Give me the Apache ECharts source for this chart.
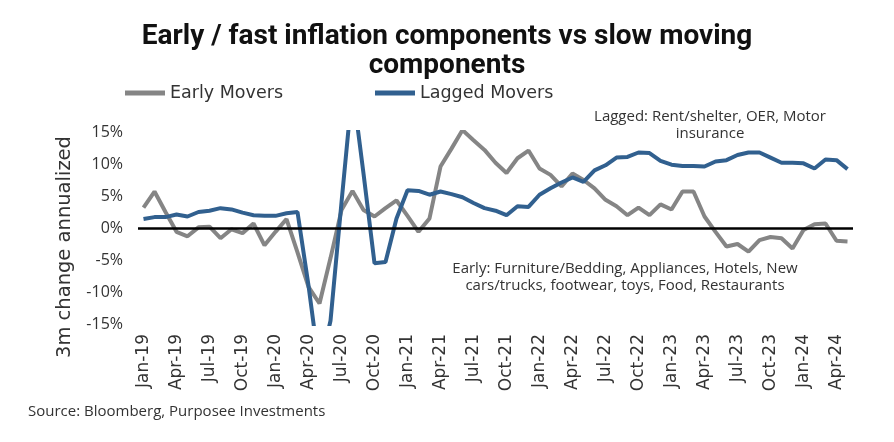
<!DOCTYPE html>
<html>
<head>
<meta charset="utf-8">
<script src="https://cdn.jsdelivr.net/npm/echarts@6/dist/echarts.min.js"></script>
<style>html,body{margin:0;padding:0;background:#fff;}#c{width:894px;height:442px;}</style>
</head>
<body>
<div id="c"></div>
<script>
const months = ["Jan-19","Feb-19","Mar-19","Apr-19","May-19","Jun-19","Jul-19","Aug-19","Sep-19","Oct-19","Nov-19","Dec-19",
"Jan-20","Feb-20","Mar-20","Apr-20","May-20","Jun-20","Jul-20","Aug-20","Sep-20","Oct-20","Nov-20","Dec-20",
"Jan-21","Feb-21","Mar-21","Apr-21","May-21","Jun-21","Jul-21","Aug-21","Sep-21","Oct-21","Nov-21","Dec-21",
"Jan-22","Feb-22","Mar-22","Apr-22","May-22","Jun-22","Jul-22","Aug-22","Sep-22","Oct-22","Nov-22","Dec-22",
"Jan-23","Feb-23","Mar-23","Apr-23","May-23","Jun-23","Jul-23","Aug-23","Sep-23","Oct-23","Nov-23","Dec-23",
"Jan-24","Feb-24","Mar-24","Apr-24","May-24"];
const earlyMovers = [3.2,5.7,2.5,-0.6,-1.3,0.1,0.2,-1.6,-0.2,-0.8,0.7,-2.7,
-0.6,1.4,-3.8,-9.2,-11.8,-4.7,2.8,5.8,2.8,1.8,3.1,4.3,
1.9,-0.6,1.5,9.6,12.4,15.3,13.7,12.2,10.2,8.6,10.9,12.1,
9.3,8.3,6.5,8.5,7.5,6.2,4.4,3.4,2.0,3.2,2.0,3.7,
2.9,5.7,5.7,1.8,-0.6,-2.9,-2.5,-3.7,-1.9,-1.4,-1.6,-3.2,
-0.3,0.6,0.7,-2.0,-2.1];
const laggedMovers = [1.4,1.7,1.7,2.1,1.8,2.5,2.7,3.1,2.9,2.4,2.0,1.9,
1.9,2.3,2.5,-9.0,-22,-14.5,4,22,8.5,-5.5,-5.3,1.5,
5.9,5.8,5.2,5.7,5.3,4.8,3.9,3.1,2.7,2.0,3.4,3.3,
5.2,6.2,7.1,7.9,7.2,9.0,9.8,11.0,11.1,11.8,11.7,10.5,
9.9,9.7,9.7,9.6,10.4,10.6,11.4,11.8,11.8,11.0,10.2,10.2,
10.1,9.3,10.7,10.6,9.2];
const seriesNames = ["Early Movers","Lagged Movers"];
const titleText = "Early / fast inflation components vs slow moving\ncomponents";
const yAxisTitle = "3m change annualized";
const sourceText = "Source: Bloomberg, Purposee Investments";
const laggedNote = "Lagged: Rent/shelter, OER, Motor\ninsurance";
const earlyNote = "Early: Furniture/Bedding, Appliances, Hotels, New\ncars/trucks, footwear, toys, Food, Restaurants";

const GRAY = "#858585", BLUE = "#31608F", FONT = "Open Sans", WIDE = "DejaVu Sans";
const chart = echarts.init(document.getElementById('c'), null, {renderer: 'canvas'});
chart.setOption({
  animation: false,
  backgroundColor: '#fff',
  title: {
    text: titleText, left: 442, top: 17, textAlign: 'center',
    textStyle: {fontFamily: 'Roboto', fontWeight: 'bold', fontSize: 28, color: '#111', lineHeight: 29}
  },
  legend: {
    left: 120, top: 79, itemWidth: 40, itemHeight: 5, itemGap: 92, icon: 'rect',
    textStyle: {fontFamily: WIDE, fontSize: 17.5, color: '#333'},
    data: seriesNames
  },
  grid: {left: 138, right: 41, top: 132, bottom: 118},
  xAxis: {
    type: 'category', data: months, boundaryGap: true,
    axisLine: {show: false}, axisTick: {show: false},
    axisLabel: {rotate: 90, interval: 2, margin: 10, fontFamily: WIDE, fontSize: 17, color: '#333'}
  },
  yAxis: {
    type: 'value', min: -15, max: 15, interval: 5,
    splitLine: {show: false}, axisLine: {show: false}, axisTick: {show: false},
    axisLabel: {formatter: '{value}%', margin: 15, fontFamily: FONT, fontSize: 16, color: '#333'}
  },
  series: [
    {name: seriesNames[0], type: 'line', data: earlyMovers, symbol: 'none', clip: true,
     lineStyle: {color: GRAY, width: 4}, itemStyle: {color: GRAY},
     markLine: {silent: true, symbol: 'none', label: {show: false},
       lineStyle: {color: '#000', width: 2.5, type: 'solid'}, data: [{yAxis: 0}]}, z: 3},
    {name: seriesNames[1], type: 'line', data: laggedMovers, symbol: 'none', clip: true,
     lineStyle: {color: BLUE, width: 4}, itemStyle: {color: BLUE}, z: 4}
  ],
  graphic: [
    {type: 'text', x: 65, y: 247, rotation: Math.PI/2,
     style: {text: yAxisTitle, fontFamily: WIDE, fontSize: 19.5, fill: '#333', align: 'center', verticalAlign: 'middle'}},
    {type: 'text', x: 28, y: 412,
     style: {text: sourceText, fontFamily: FONT, fontSize: 15, fill: '#333', align: 'left', verticalAlign: 'middle'}},
    {type: 'text', x: 710, y: 108,
     style: {text: laggedNote, fontFamily: FONT, fontSize: 15, lineHeight: 17, fill: '#333', align: 'center', verticalAlign: 'top'}},
    {type: 'text', x: 625, y: 260,
     style: {text: earlyNote, fontFamily: FONT, fontSize: 15, lineHeight: 17, fill: '#333', align: 'center', verticalAlign: 'top'}}
  ]
});
</script>
</body>
</html>
